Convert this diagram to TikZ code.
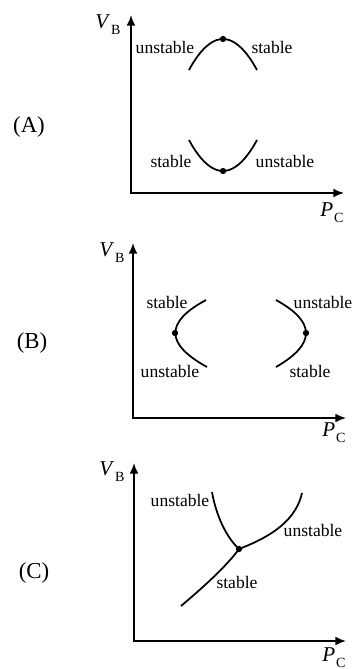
\documentclass[tikz,border=0pt]{standalone}
\usepackage{fontspec}
\setmainfont{Liberation Serif}
\usetikzlibrary{arrows.meta}
\newcommand{\VB}{\textit{V}\kern0.5pt\raisebox{-0.6ex}{\fontsize{8}{9}\selectfont B}}
\newcommand{\PC}{\textit{P}\kern0.5pt\raisebox{-0.6ex}{\fontsize{8}{9}\selectfont C}}
\begin{document}
\begin{tikzpicture}[x=0.02cm, y=-0.02cm,
    axes/.style={line width=1pt, {Latex[length=6pt,width=5pt]}-{Latex[length=6pt,width=5pt]}},
    curve/.style={line width=1pt},
    lbl/.style={inner sep=0pt, font=\fontsize{10}{12}\selectfont},
    qty/.style={inner sep=0pt, font=\fontsize{12}{14}\selectfont},
    tag/.style={inner sep=0pt, font=\fontsize{13}{15}\selectfont},
    dot/.style={circle, fill, inner sep=0pt, minimum size=3.6pt}]
    \useasboundingbox (0,0) rectangle (355,669);

    % (A): two arcs, bend up and bend down
    \coordinate (yA) at (131,15);
    \coordinate (oA) at (131,193);
    \coordinate (xA) at (344,193);
    \draw[axes] (yA) -- (oA) -- (xA);
    \node[qty] (vbA) at (108,25) {\VB};
    \node[qty] (pcA) at (332,213) {\PC};
    \node[tag] (tagA) at (29,127) {(A)};
    \draw[curve] (189,70) parabola bend (223,39) (257,70);
    \draw[curve] (189,140) parabola bend (223,171) (257,140);
    \node[dot] (topA) at (223,39) {};
    \node[dot] (botA) at (223,171) {};
    \node[lbl] (unA) at (165,47) {unstable};
    \node[lbl] (stA) at (272,47) {stable};
    \node[lbl] (stA2) at (171,161) {stable};
    \node[lbl] (unA2) at (285,161) {unstable};

    % (B): two arcs, bend left and bend right
    \coordinate (yB) at (133,243);
    \coordinate (oB) at (133,418);
    \coordinate (xB) at (346,418);
    \draw[axes] (yB) -- (oB) -- (xB);
    \node[qty] (vbB) at (112,253) {\VB};
    \node[qty] (pcB) at (334,433) {\PC};
    \node[tag] (tagB) at (32,343) {(B)};
    \draw[curve] (206,300) .. controls (165,322) and (165,344) .. (207,367);
    \draw[curve] (276,300) .. controls (316,322) and (316,344) .. (276,367);
    \node[dot] (leftB) at (175,333) {};
    \node[dot] (rightB) at (306,333) {};
    \node[lbl] (stB) at (167,302) {stable};
    \node[lbl] (unB) at (170,371) {unstable};
    \node[lbl] (unB2) at (323,302) {unstable};
    \node[lbl] (stB2) at (310,371) {stable};

    % (C): two branches meeting at one point
    \coordinate (yC) at (134,463);
    \coordinate (oC) at (134,641);
    \coordinate (xC) at (346,641);
    \draw[axes] (yC) -- (oC) -- (xC);
    \node[qty] (vbC) at (112,472) {\VB};
    \node[qty] (pcC) at (334,658) {\PC};
    \node[tag] (tagC) at (34,573) {(C)};
    \draw[curve] (212,492) .. controls (216,515) and (226,537) .. (239,549);
    \draw[curve] (181,606) .. controls (200,590) and (226,567) .. (239,549)
        .. controls (262,540) and (295,525) .. (302,493);
    \node[dot] (meetC) at (239,549) {};
    \node[lbl] (unC) at (180,500) {unstable};
    \node[lbl] (unC2) at (313,530) {unstable};
    \node[lbl] (stC) at (237,582) {stable};
\end{tikzpicture}
\end{document}
